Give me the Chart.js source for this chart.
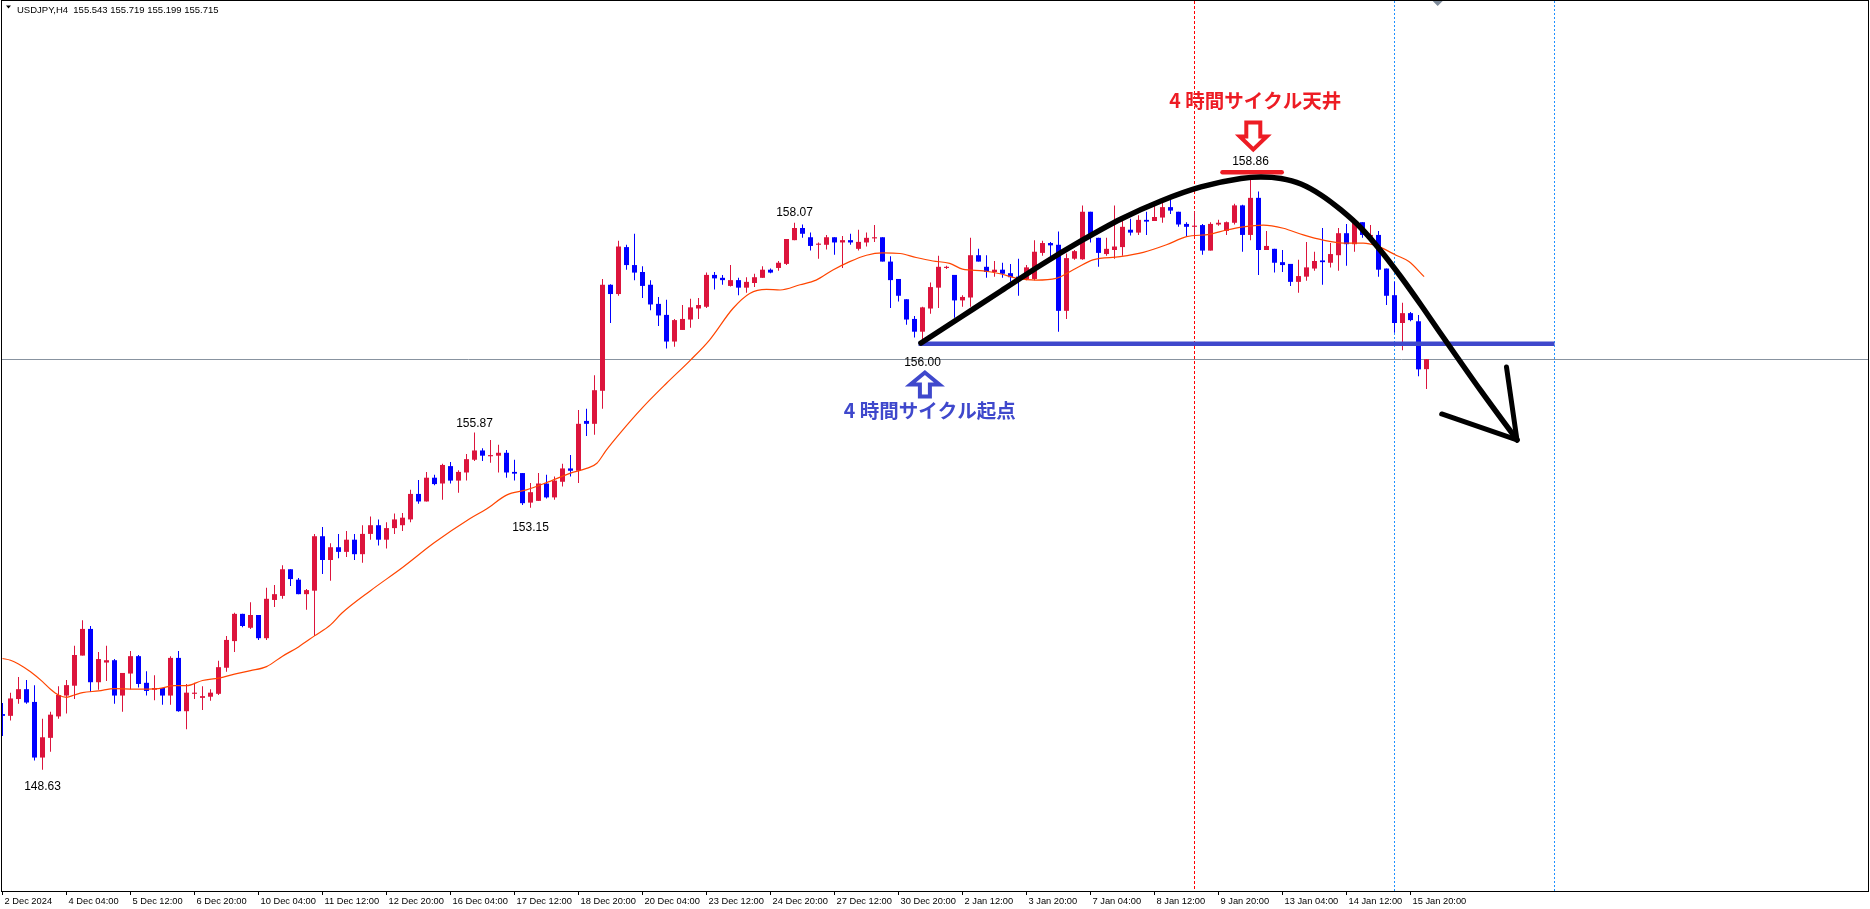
<!DOCTYPE html>
<html><head><meta charset="utf-8">
<script src="https://cdn.jsdelivr.net/npm/chart.js@4.4.1/dist/chart.umd.min.js"></script>
<style>html,body{margin:0;padding:0;background:#fff;overflow:hidden}#wrap{width:1870px;height:909px;position:relative}</style>
</head><body><div id="wrap"><canvas id="c"></canvas></div>
<script>
// ---------- DATA ----------
const symbolTitle = "USDJPY,H4";
const lastQuote = [155.543, 155.719, 155.199, 155.715]; // O H L C of last bar
const tickLabels = ["2 Dec 2024","4 Dec 04:00","5 Dec 12:00","6 Dec 20:00","10 Dec 04:00","11 Dec 12:00","12 Dec 20:00","16 Dec 04:00","17 Dec 12:00","18 Dec 20:00","20 Dec 04:00","23 Dec 12:00","24 Dec 20:00","27 Dec 12:00","30 Dec 20:00","2 Jan 12:00","3 Jan 20:00","7 Jan 04:00","8 Jan 12:00","9 Jan 20:00","13 Jan 04:00","14 Jan 12:00","15 Jan 20:00"];
const tickBars = [0,8,16,24,32,40,48,56,64,72,80,88,96,104,112,120,128,136,144,152,160,168,176];

const opens = [149.59,149.56,149.85,150.02,149.80,148.84,149.18,149.55,149.91,150.08,150.60,151.06,150.14,150.48,150.52,149.91,150.29,150.59,150.13,150.01,150.04,149.91,150.56,149.64,149.94,149.87,149.89,149.94,150.39,150.85,
151.32,151.08,151.30,150.90,151.56,151.63,152.09,151.91,151.66,151.72,152.66,152.25,152.47,152.39,152.60,152.35,152.70,152.85,152.60,152.80,
152.85,152.95,153.39,153.26,153.67,153.57,153.87,153.62,153.76,153.98,154.14,154.04,154.05,154.10,153.77,153.75,153.24,153.27,153.57,153.33,
153.60,153.83,153.79,154.65,154.60,155.17,157.00,156.84,157.65,157.34,157.22,157.00,156.67,156.48,156.02,156.22,156.40,156.59,156.62,157.17,
157.12,156.98,157.08,156.95,157.03,157.12,157.26,157.29,157.36,157.77,157.98,157.82,157.69,157.69,157.82,157.73,157.77,157.62,157.73,157.80,
157.82,157.40,157.10,156.75,156.41,156.19,156.59,156.95,157.29,157.17,156.73,156.78,157.51,157.31,157.22,157.26,157.20,157.14,157.10,157.10,
157.55,157.72,157.69,156.55,157.45,157.44,158.26,157.81,157.53,157.60,157.65,157.95,157.90,158.12,158.10,158.16,158.34,158.26,158.05,158.00,
158.03,157.59,158.04,157.93,158.07,158.37,157.86,158.50,157.60,157.62,157.39,157.36,157.05,157.14,157.28,157.42,157.38,157.51,157.89,157.70,
158.08,157.83,157.86,157.28,156.82,156.34,156.51,156.37,155.543];
const highs = [149.78,149.96,150.23,150.18,150.09,149.51,149.63,150.07,150.18,150.77,151.21,151.11,150.66,150.77,150.54,150.30,150.68,150.61,150.33,150.26,150.04,150.59,150.68,150.11,150.13,150.07,150.02,150.51,150.94,151.34,
151.32,151.52,151.30,151.77,151.82,152.16,152.09,151.94,151.75,152.70,152.82,152.54,152.70,152.75,152.70,152.85,153.00,152.95,152.90,153.05,
153.06,153.46,153.63,153.77,153.72,153.91,153.94,153.80,154.08,154.45,154.18,154.32,154.24,154.15,153.98,153.75,153.58,153.75,153.72,153.69,
153.91,154.06,154.84,154.86,155.44,157.10,157.01,157.76,157.69,157.88,157.32,157.08,156.79,156.74,156.41,156.65,156.76,156.77,157.21,157.22,
157.17,157.34,157.12,157.13,157.19,157.32,157.28,157.41,157.79,158.07,158.04,157.90,157.73,157.86,157.82,157.84,157.88,157.95,157.90,158.03,
157.82,157.49,157.10,156.75,156.46,156.62,157.04,157.50,157.33,157.17,156.82,157.81,157.62,157.51,157.41,157.38,157.36,157.45,157.34,157.77,
157.76,157.74,157.92,157.54,157.60,158.37,158.26,157.81,157.81,158.37,158.15,158.14,158.20,158.26,158.37,158.43,158.47,158.26,158.08,158.26,
158.05,158.08,158.12,158.09,158.40,158.38,158.86,158.61,157.93,157.62,157.60,157.36,157.43,157.74,157.57,157.98,157.72,157.98,158.05,158.15,
158.08,158.03,157.93,157.28,157.05,156.69,156.53,156.48,155.719];
const lows = [149.21,149.48,149.77,149.77,148.79,148.63,148.94,149.51,149.60,149.85,150.60,149.97,150.01,150.16,149.77,149.63,150.02,150.05,149.91,149.83,149.75,149.75,149.63,149.33,149.85,149.66,149.82,149.92,150.32,150.66,
151.09,151.06,150.87,150.87,151.44,151.58,151.80,151.66,151.39,150.94,152.01,151.89,152.28,152.30,152.25,152.20,152.60,152.50,152.45,152.70,
152.75,152.90,153.22,153.26,153.54,153.29,153.57,153.41,153.62,153.96,153.96,153.93,153.76,153.67,153.62,153.20,153.15,153.27,153.31,153.29,
153.52,153.69,153.58,154.39,154.41,154.86,156.34,156.81,157.26,157.08,156.77,156.56,156.29,155.90,155.93,156.22,156.26,156.41,156.60,156.92,
157.00,156.97,156.82,156.86,156.96,157.12,157.20,157.24,157.34,157.77,157.81,157.59,157.45,157.61,157.52,157.29,157.69,157.59,157.66,157.74,
157.40,156.60,156.71,156.31,156.09,156.00,156.50,156.60,157.27,156.43,156.62,156.62,157.40,157.12,157.14,157.12,157.05,156.81,157.08,157.08,
157.50,157.47,156.19,156.41,157.43,157.43,157.73,157.31,157.50,157.45,157.50,157.85,157.86,157.86,158.10,158.07,158.22,158.00,157.84,157.84,
157.52,157.59,158.02,157.86,158.04,157.57,157.77,157.17,157.60,157.21,157.22,156.98,156.86,157.07,157.24,157.00,157.30,157.24,157.33,157.57,
157.81,157.83,157.14,156.65,156.17,155.87,156.37,155.42,155.199];
const closes = [149.56,149.86,150.02,149.79,148.84,149.19,149.58,149.92,150.09,150.61,151.06,150.14,150.54,150.52,149.91,150.30,150.59,150.11,149.99,150.04,149.91,150.56,149.64,149.96,149.96,149.90,149.96,150.40,150.87,151.32,
151.11,151.30,150.90,151.58,151.66,152.09,151.92,151.66,151.73,152.66,152.25,152.47,152.39,152.60,152.35,152.70,152.85,152.60,152.80,152.95,
152.98,153.39,153.26,153.67,153.56,153.89,153.62,153.77,153.99,154.14,154.05,154.06,154.10,153.76,153.74,153.23,153.42,153.57,153.33,153.62,
153.83,153.79,154.60,154.60,155.18,157.00,156.84,157.66,157.34,157.21,156.98,156.66,156.47,156.02,156.39,156.41,156.61,156.65,157.17,157.11,
157.08,157.08,156.95,157.05,157.13,157.26,157.21,157.38,157.79,157.98,157.88,157.67,157.71,157.82,157.73,157.77,157.73,157.74,157.81,157.82,
157.40,157.08,156.81,156.40,156.19,156.61,156.96,157.31,157.31,156.73,156.79,157.51,157.40,157.22,157.26,157.19,157.13,157.11,157.30,157.57,
157.72,157.68,156.55,157.46,157.58,158.26,157.84,157.55,157.62,157.66,158.00,157.90,158.12,158.09,158.17,158.34,158.28,158.04,158.00,158.02,
157.59,158.05,158.07,158.08,158.37,157.86,158.50,157.60,157.67,157.38,157.34,157.05,157.15,157.30,157.41,157.39,157.53,157.89,157.70,158.08,
157.86,157.86,157.26,156.81,156.34,156.51,156.39,155.54,155.715];

// moving average: bar index / value
const maBars = [0,1,2,3.5,5,6,7,8,9,10,12,14,16.5,19.5,21.5,23,25,27,29,31,33,35,37,39,41,42.4,46,50,54,58.4,60.5,63,65.5,68,71,73,74.3,75.5,77.2,80,83,86,88.4,91.3,93.4,95.5,97.2,99.7,101.7,103.8,105.9,108,110,112.2,114.2,116.3,118.4,120,122.6,124.7,126.8,129.2,131.7,134.2,136.3,139.7,142.6,145.5,148,150.9,153,155.1,157.6,160.1,162.6,165.1,167.6,170.1,171.8,174.2,175.8,177.7];
const maValues = [150.55,150.52,150.455,150.32,150.15,150.02,149.92,149.88,149.92,149.96,149.99,150.03,150.02,150.03,150.08,150.08,150.17,150.21,150.28,150.34,150.41,150.59,150.75,150.94,151.13,151.33,151.72,152.12,152.55,152.96,153.13,153.37,153.46,153.585,153.75,153.83,153.92,154.15,154.44,154.88,155.30,155.70,156.05,156.59,156.85,156.92,156.91,157.00,157.08,157.255,157.40,157.51,157.55,157.54,157.47,157.41,157.37,157.27,157.24,157.19,157.11,157.08,157.11,157.285,157.43,157.485,157.56,157.69,157.83,157.87,157.945,158.00,158.03,157.975,157.86,157.77,157.72,157.72,157.67,157.51,157.40,157.14];

// drawn annotations (bar index, price)
const cycleCurveBars   = [114.81,119.81,124.81,129.81,134.81,139.81,144.81,149.81,154.81,157.31,159.81,162.31,164.81,167.31,169.81,172.31,174.81,177.31,179.81,184.81,189.31];
const cycleCurvePrices = [155.995,156.444,156.893,157.341,157.756,158.135,158.446,158.688,158.834,158.860,158.834,158.739,158.550,158.291,157.980,157.583,157.134,156.651,156.150,155.167,154.321];
const arrowArmA = [[189.31,154.321],[188.0,155.58]];
const arrowArmB = [[189.31,154.321],[179.9,154.77]];
const startLevel = {from:114.5, to:194, price:155.98};
const topLevel   = {from:152.5, to:159.9, price:158.94};
const bidPrice = 155.715;
const vLineBars = [149, 174, 194];
const priceLabels = [
  {bar:5,   price:148.34, text:"148.63"},
  {bar:59,  price:154.61, text:"155.87"},
  {bar:66,  price:152.80, text:"153.15"},
  {bar:99,  price:158.24, text:"158.07"},
  {bar:115, price:155.66, text:"156.00"},
  {bar:156, price:159.12, text:"158.86"}
];
const noteTop   = {bar:156.6, price:160.17, text:"4 時間サイクル天井"};
const noteStart = {bar:115.9, price:154.82, text:"4 時間サイクル起点"};
const arrowTop   = {bar:156.35, price:159.30};
const arrowStart = {bar:115.3,  price:155.52};
const shiftMarkBar = 179.4;

// ---------- STYLE ----------
const UP = '#DC143C', DOWN = '#0000FF';
const PAINT_RED = '#ED1C24', PAINT_BLUE = '#3F48CC';
const N = opens.length;
const idx = Array.from({length:N}, (_, i) => i);
const candleColors = idx.map(i => closes[i] >= opens[i] ? UP : DOWN);
const wickData = idx.map(i => ({x:i, y:[lows[i], highs[i]]}));
const bodyData = idx.map(i => ({x:i, y:[Math.min(opens[i],closes[i]), Math.max(opens[i],closes[i])]}));
const maData = maBars.map((b,i) => ({x:b, y:maValues[i]}));
const curveData = cycleCurveBars.map((b,i) => ({x:b, y:cycleCurvePrices[i]}));
const pts = a => a.map(p => ({x:p[0], y:p[1]}));

const lineDs = (data, color, width, extra) => Object.assign({
  type:'line', data, borderColor:color, borderWidth:width, pointRadius:0, pointHoverRadius:0,
  fill:false, tension:0, borderCapStyle:'round', borderJoinStyle:'round'
}, extra||{});

function drawArrow(ctx, tx, ty, dir, hw, hl, sw, sl, color) {
  // dir = 1 pointing down (tip at bottom), -1 pointing up
  ctx.beginPath();
  ctx.moveTo(tx, ty);
  ctx.lineTo(tx - hw, ty - dir*hl);
  ctx.lineTo(tx - sw, ty - dir*hl);
  ctx.lineTo(tx - sw, ty - dir*(hl+sl));
  ctx.lineTo(tx + sw, ty - dir*(hl+sl));
  ctx.lineTo(tx + sw, ty - dir*hl);
  ctx.lineTo(tx + hw, ty - dir*hl);
  ctx.closePath();
  ctx.fillStyle = '#fff'; ctx.fill();
  ctx.lineWidth = 4; ctx.strokeStyle = color; ctx.lineJoin = 'miter'; ctx.stroke();
}

const annot = {
  id:'annot',
  beforeDatasetsDraw(chart) {
    const {ctx, chartArea:a, scales:{x, y}} = chart;
    ctx.save();
    ctx.beginPath(); ctx.rect(a.left, a.top, a.right-a.left, a.bottom-a.top); ctx.clip();
    ctx.lineWidth = 1;
    vLineBars.forEach((b, k) => {
      const px = Math.round(x.getPixelForValue(b) - 0.5) + 0.5;
      ctx.strokeStyle = k === 0 ? '#FF0000' : '#1E90FF';
      ctx.setLineDash(k === 0 ? [3,2] : [2,2]);
      ctx.beginPath(); ctx.moveTo(px, a.top); ctx.lineTo(px, a.bottom); ctx.stroke();
    });
    ctx.setLineDash([]);
    const by = Math.round(y.getPixelForValue(bidPrice)) + 0.5;
    ctx.strokeStyle = '#8893A0';
    ctx.beginPath(); ctx.moveTo(a.left, by); ctx.lineTo(a.right, by); ctx.stroke();
    ctx.restore();
  },
  afterDatasetsDraw(chart) {
    const {ctx, chartArea:a, scales:{x, y}} = chart;
    ctx.save();
    // hollow arrows
    drawArrow(ctx, x.getPixelForValue(arrowTop.bar), y.getPixelForValue(arrowTop.price) - 2, 1, 13.5, 13, 7, 14, PAINT_RED);
    drawArrow(ctx, x.getPixelForValue(arrowStart.bar), y.getPixelForValue(arrowStart.price) + 2, -1, 14.5, 12, 5, 12, PAINT_BLUE);
    // notes
    ctx.font = 'bold 19.5px "Noto Sans CJK JP", "Noto Sans CJK SC", sans-serif';
    ctx.textAlign = 'center'; ctx.textBaseline = 'middle';
    ctx.fillStyle = PAINT_RED;
    ctx.fillText(noteTop.text, x.getPixelForValue(noteTop.bar), y.getPixelForValue(noteTop.price));
    ctx.fillStyle = PAINT_BLUE;
    ctx.fillText(noteStart.text, x.getPixelForValue(noteStart.bar), y.getPixelForValue(noteStart.price));
    // high / low labels
    ctx.font = '12px "Liberation Sans", Arial, sans-serif';
    ctx.fillStyle = '#000';
    priceLabels.forEach(l => ctx.fillText(l.text, x.getPixelForValue(l.bar), y.getPixelForValue(l.price)));
    // header
    ctx.textAlign = 'left'; ctx.textBaseline = 'alphabetic';
    ctx.font = '9.5px "Liberation Sans", Arial, sans-serif';
    ctx.fillText(symbolTitle + '  ' + lastQuote.map(v => v.toFixed(3)).join(' '), 17, 12.5);
    ctx.beginPath(); ctx.moveTo(6, 5.5); ctx.lineTo(11, 5.5); ctx.lineTo(8.5, 8.5); ctx.closePath(); ctx.fill();
    // chart shift marker
    const sx = x.getPixelForValue(shiftMarkBar);
    ctx.fillStyle = '#7D8A99';
    ctx.beginPath(); ctx.moveTo(sx - 5, a.top); ctx.lineTo(sx + 5, a.top); ctx.lineTo(sx, a.top + 5); ctx.closePath(); ctx.fill();
    // frame
    ctx.strokeStyle = '#000'; ctx.lineWidth = 1;
    ctx.strokeRect(1.5, 0.5, 1867, 891);
    ctx.restore();
  }
};

new Chart(document.getElementById('c'), {
  type:'line',
  data:{ datasets:[
    lineDs(curveData, '#000', 5.5, {cubicInterpolationMode:'monotone', order:0}),
    lineDs(pts(arrowArmA), '#000', 5, {order:0}),
    lineDs(pts(arrowArmB), '#000', 5, {order:0}),
    lineDs([{x:startLevel.from, y:startLevel.price},{x:startLevel.to, y:startLevel.price}], PAINT_BLUE, 4.5, {order:0, borderCapStyle:'butt'}),
    lineDs([{x:topLevel.from, y:topLevel.price},{x:topLevel.to, y:topLevel.price}], PAINT_RED, 4.5, {order:0}),
    lineDs(maData, '#FF4500', 1.2, {order:1, cubicInterpolationMode:'monotone', borderCapStyle:'butt'}),
    {type:'bar', data:bodyData, backgroundColor:candleColors, barThickness:5, grouped:false, minBarLength:1, inflateAmount:0, borderWidth:0, order:2},
    {type:'bar', data:wickData, backgroundColor:candleColors, barThickness:1, grouped:false, minBarLength:1, inflateAmount:0, borderWidth:0, order:3}
  ]},
  options:{
    responsive:true, maintainAspectRatio:false, animation:false, events:[],
    layout:{padding:{left:2, right:2, top:1, bottom:0}},
    plugins:{legend:{display:false}, tooltip:{enabled:false}, title:{display:false}},
    scales:{
      x:{type:'linear', min:-0.0625, max:233.1875, offset:false,
         afterBuildTicks:(ax)=>{ ax.ticks = tickBars.map(v => ({value:v})); },
         afterFit:(ax)=>{ ax.height = 18; },
         ticks:{autoSkip:false, maxRotation:0, minRotation:0, align:'start', labelOffset:2, padding:1,
                color:'#000', font:{family:'"Liberation Sans", Arial, sans-serif', size:9.3},
                callback:(v, i) => tickLabels[i]},
         grid:{display:true, drawOnChartArea:false, drawTicks:true, tickLength:4, color:'#000', offset:false},
         border:{display:true, color:'#000'}},
      y:{type:'linear', display:false, min:146.5368, max:161.8975}
    }
  },
  plugins:[annot]
});
</script>
</body></html>
